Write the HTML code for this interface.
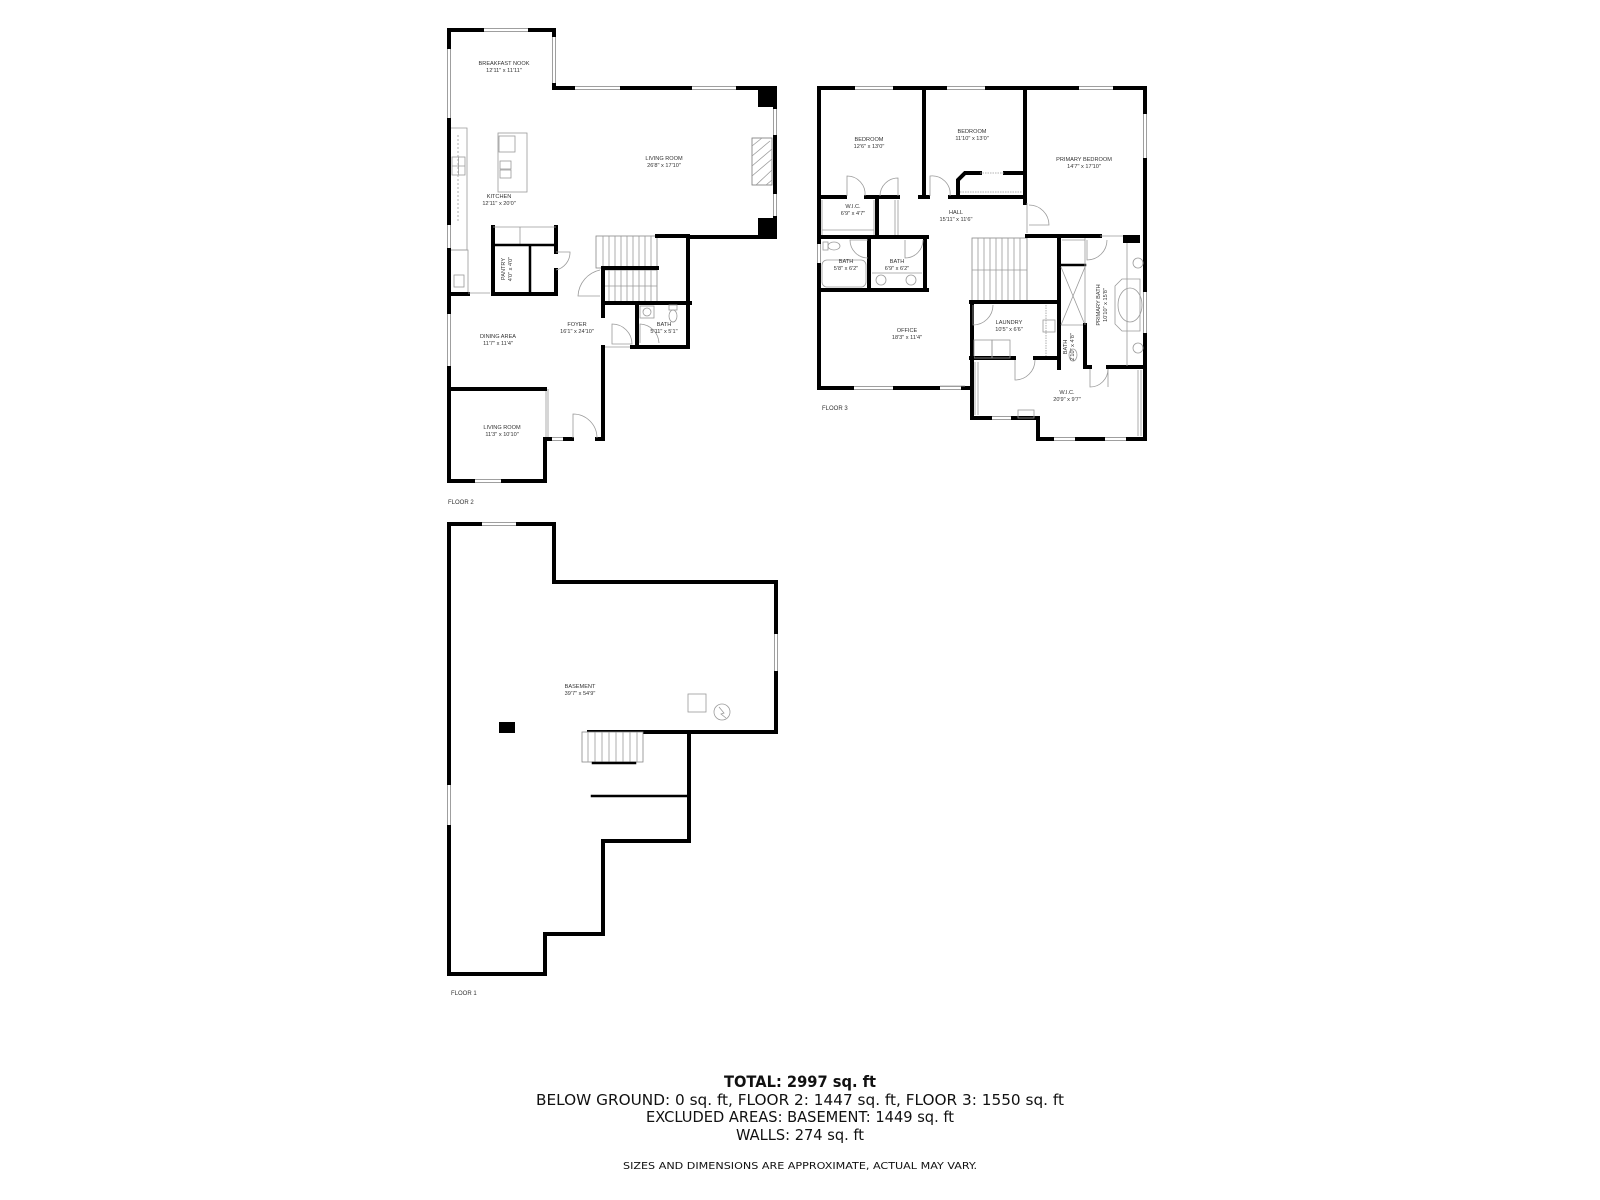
<!DOCTYPE html>
<html><head><meta charset="utf-8"><style>
html,body{margin:0;padding:0;background:#fff;}
svg{display:block;}
.w{stroke:#000;stroke-width:4;fill:none;stroke-linecap:square;}
.t{stroke:#000;stroke-width:2.5;fill:none;stroke-linecap:square;}
.g{stroke:#9a9a9a;stroke-width:0.8;fill:none;}
.win{stroke:#888;stroke-width:0.8;fill:#fff;}
.lb{font-family:"Liberation Sans",sans-serif;font-size:5.6px;fill:#333;text-anchor:middle;}
.fl{font-family:"Liberation Sans",sans-serif;font-size:6px;fill:#333;}
.bt{font-family:"DejaVu Sans","Liberation Sans",sans-serif;fill:#111;text-anchor:middle;}
</style></head><body>
<svg width="1600" height="1200" viewBox="0 0 1600 1200" xmlns="http://www.w3.org/2000/svg">
<rect width="1600" height="1200" fill="#fff"/>

<!-- ===== FLOOR 2 ===== -->
<g>
<!-- windows -->
<rect class="win" x="482" y="28.5" width="48" height="3"/>
<rect class="win" x="552.5" y="35" width="3" height="50"/>
<rect class="win" x="573" y="86.5" width="49" height="3"/>
<rect class="win" x="690" y="86.5" width="48" height="3"/>
<rect class="win" x="773.5" y="107" width="3" height="30"/>
<rect class="win" x="773.5" y="192" width="3" height="26"/>
<rect class="win" x="447.5" y="47" width="3" height="73"/>
<rect class="win" x="447.5" y="223" width="3" height="27"/>
<rect class="win" x="447.5" y="312" width="3" height="56"/>
<rect class="win" x="550" y="437.5" width="15" height="3"/>
<rect class="win" x="473" y="479.5" width="30" height="3"/>
<line class="g" x1="546" y1="389" x2="546" y2="437"/>
<line class="g" x1="548" y1="389" x2="548" y2="437"/>
<line class="g" x1="603" y1="347" x2="632" y2="347"/>
<!-- walls -->
<path class="w" d="M449,47 V30 H482 M530,30 H554 V35 M554,85 V88 H573 M622,88 H690 M738,88 H775 V107"/>
<path class="w" d="M775,137 V192 M775,218 V237 H688 V347 H632"/>
<path class="w" d="M603,347 V439 H597 M572,439 H565 M550,439 H545 V481 H503 M473,481 H449 V368"/>
<path class="w" d="M449,312 V250 M449,223 V120"/>
<path class="w" d="M449,389 H545"/>
<rect x="758" y="88" width="19" height="19" fill="#000"/>
<rect x="758" y="218" width="19" height="19" fill="#000"/>
<!-- fireplace -->
<rect x="752" y="138" width="20" height="47" fill="#fff" stroke="#777" stroke-width="0.8"/>
<path class="g" d="M752,146 L762,138 M752,156 L770,141 M752,166 L772,149 M752,176 L772,159 M756,185 L772,170 M766,185 L772,180"/>
<!-- kitchen counter -->
<path class="g" d="M451,128 H467 V250 H451"/>
<path class="g" d="M458,135 V222" stroke-dasharray="2,2"/>
<rect class="g" x="452" y="157" width="13" height="18"/>
<path class="g" d="M452,166 H465 M458.5,157 V175"/>
<path class="g" d="M451,250 H468 V294"/>
<rect class="g" x="454" y="275" width="10" height="12"/>
<!-- island -->
<rect class="g" x="498" y="133" width="29" height="59"/>
<rect class="g" x="499" y="136" width="16" height="16"/>
<rect class="g" x="500" y="161" width="11" height="8"/><rect class="g" x="500" y="170" width="11" height="8"/>
<line class="w" x1="449" y1="294" x2="468" y2="294"/>
<line class="g" x1="468" y1="293" x2="490" y2="293"/>
<!-- pantry block -->
<path class="w" d="M493,227 V294 H556 V270 M556,252 V227"/>
<path class="g" d="M493,227 H556 M493,245 H556 M520,227 V245"/>
<path class="t" d="M493,245 H556 M530,245 V294"/>
<path class="g" d="M556,252 H570 A18,18 0 0 1 556,270"/>
<!-- stairs -->
<rect x="596" y="236" width="61" height="32" fill="#fff" stroke="#888" stroke-width="0.8"/>
<path class="g" d="M603,236 V268 M609,236 V268 M615,236 V268 M621,236 V268 M627,236 V268 M633,236 V268 M639,236 V268 M645,236 V268 M651,236 V268"/>
<rect x="603" y="270" width="54" height="32" fill="#fff" stroke="#888" stroke-width="0.8"/>
<path class="g" d="M609,270 V302 M615,270 V302 M621,270 V302 M627,270 V302 M633,270 V302 M639,270 V302 M645,270 V302 M651,270 V302 M603,286 H657"/>
<path class="w" d="M657,236 H688"/>
<path class="w" d="M606,268 H657 M603,268 V316"/>
<path class="g" d="M600,270 A28,28 0 0 0 578,296 H600"/>
<!-- bath -->
<path class="w" d="M603,303 H690 M637,303 V347"/>
<rect class="g" x="640" y="306" width="14" height="12"/>
<circle class="g" cx="647" cy="312" r="4"/>
<rect class="g" x="669" y="305" width="8" height="5"/><ellipse class="g" cx="673" cy="316" rx="4" ry="6"/>
<path class="g" d="M640,343 V324 A20,20 0 0 1 659,343"/>
<path class="g" d="M612,344 V324 A20,20 0 0 1 632,344 Z" fill="none"/>
<path class="g" d="M573,438 V414 A24,24 0 0 1 597,438"/>
<!-- labels -->
<text class="lb" x="504" y="65">BREAKFAST NOOK</text><text class="lb" x="504" y="72">12'11" x 11'11"</text>
<text class="lb" x="664" y="160">LIVING ROOM</text><text class="lb" x="664" y="167">26'8" x 17'10"</text>
<text class="lb" x="499" y="198">KITCHEN</text><text class="lb" x="499" y="205">12'11" x 20'0"</text>
<text class="lb" transform="translate(505,269) rotate(-90)" x="0" y="0">PANTRY</text>
<text class="lb" transform="translate(512,269) rotate(-90)" x="0" y="0">4'0" x 4'0"</text>
<text class="lb" x="577" y="326">FOYER</text><text class="lb" x="577" y="333">16'1" x 24'10"</text>
<text class="lb" x="664" y="326">BATH</text><text class="lb" x="664" y="333">5'11" x 5'1"</text>
<text class="lb" x="498" y="338">DINING AREA</text><text class="lb" x="498" y="345">11'7" x 11'4"</text>
<text class="lb" x="502" y="429">LIVING ROOM</text><text class="lb" x="502" y="436">11'3" x 10'10"</text>
<text class="fl" x="448" y="504">FLOOR 2</text>
</g>

<!-- ===== FLOOR 3 ===== -->
<g>
<rect class="win" x="853" y="86.5" width="42" height="3"/>
<rect class="win" x="945" y="86.5" width="42" height="3"/>
<rect class="win" x="1077" y="86.5" width="38" height="3"/>
<rect class="win" x="817.5" y="242" width="3" height="23"/>
<rect class="win" x="852" y="386.5" width="43" height="3"/>
<rect class="win" x="938" y="386.5" width="25" height="3"/>
<rect class="win" x="990" y="416.5" width="23" height="3"/>
<rect class="win" x="1052" y="437.5" width="25" height="3"/>
<rect class="win" x="1103" y="437.5" width="25" height="3"/>
<rect class="win" x="1143.5" y="112" width="3" height="48"/>
<rect class="win" x="1143.5" y="290" width="3" height="45"/>
<path class="w" d="M819,242 V88 H853 M895,88 H945 M987,88 H1077 M1115,88 H1145 V112 M1145,160 V290 M1145,335 V439 H1128 M1103,439 H1077 M1052,439 H1038 V418 H1013 M990,418 H972 V302"/>
<path class="w" d="M819,265 V388 H852 M895,388 H938 M963,388 H972"/>
<line class="g" x1="940" y1="386" x2="965" y2="386"/>
<!-- bedroom walls -->
<path class="w" d="M924,88 V197 M1025,88 V203"/>
<path class="w" d="M819,197 H845 M866,197 H898 M920,197 H928 M950,197 H1025"/>
<path class="g" d="M1027,203 V233"/>
<path class="w" d="M958,197 V180 L965,173 H980 M1005,173 H1023"/>
<path class="g" d="M980,173 H1005 M960,192 H1022" stroke-dasharray="1.5,1"/>
<path class="g" d="M847,196 V176 A18,18 0 0 1 865,196"/>
<path class="g" d="M898,196 V178 A18,18 0 0 0 880,196 M898,178 V196"/>
<path class="g" d="M930,196 V176 A18,18 0 0 1 950,196"/>
<path class="g" d="M1029,205 A20,20 0 0 1 1049,225 H1029"/>
<!-- WIC / baths -->
<path class="w" d="M877,197 V237 M819,237 H927 M869,237 V290 M925,237 V290 M819,290 H927"/>
<path class="g" d="M822,200 V235 M874,200 V235 M822,230 H874 M895,200 V235 M898,200 V235"/>
<rect class="g" x="822" y="260" width="44" height="27" rx="5"/>
<rect class="g" x="823" y="242" width="5" height="8"/><ellipse class="g" cx="834" cy="246" rx="6" ry="4"/>
<path class="g" d="M868,240 H850 A18,18 0 0 0 868,258"/>
<path class="g" d="M905,240 V258 A18,18 0 0 0 923,240"/>
<circle class="g" cx="881" cy="280" r="5"/><circle class="g" cx="911" cy="280" r="5"/>
<path class="g" d="M872,273 H922"/>
<!-- stairs -->
<rect x="972" y="238" width="55" height="64" fill="#fff" stroke="#888" stroke-width="0.8"/>
<path class="g" d="M972,270 H1027 M978,238 V302 M984,238 V302 M990,238 V302 M996,238 V302 M1002,238 V302 M1008,238 V302 M1014,238 V302 M1020,238 V302"/>
<path class="w" d="M1027,236 H1100 M1059,236 V368 M971,302 H1059 M971,358 H1014 M1035,358 H1059"/>
<rect x="1123" y="235" width="17" height="8" fill="#000"/>
<path class="g" d="M1100,236 H1123"/>
<!-- laundry -->
<rect class="g" x="974" y="340" width="18" height="18"/><rect class="g" x="992" y="340" width="18" height="18"/>
<rect class="g" x="1043" y="320" width="12" height="12"/>
<path class="g" d="M1046,305 V356" stroke-dasharray="1.5,1"/>
<path class="g" d="M973,305 V325 A20,20 0 0 0 993,305"/>
<path class="g" d="M1015,360 V380 A20,20 0 0 0 1035,360"/>
<!-- shower / small bath / primary bath -->
<path class="t" d="M1059,265 H1085"/>
<path class="g" d="M1061,267 L1085,325 M1085,267 L1061,325 M1061,325 H1085"/>
<path class="w" d="M1085,325 V367 H1090 M1108,367 H1145"/>
<path class="g" d="M1085,238 V325 M1062,240 H1085 V263"/>
<path class="g" d="M1087,240 V260 A20,20 0 0 0 1107,240"/>
<path class="g" d="M1090,369 V387 A18,18 0 0 0 1108,369 V387"/>
<ellipse class="g" cx="1073" cy="355" rx="4" ry="6"/>
<path class="g" d="M1127,243 V366"/>
<path class="g" d="M1115,286 L1122,279 H1140 V331 H1122 L1115,324 Z"/>
<ellipse class="g" cx="1130" cy="305" rx="12" ry="17"/>
<circle class="g" cx="1138" cy="263" r="5"/><circle class="g" cx="1138" cy="348" r="5"/>
<!-- WIC big -->
<path class="g" d="M975,362 V415 M978,362 V415 M1141,370 V436 M1138,370 V436"/>
<rect class="g" x="1018" y="410" width="16" height="8"/>
<path class="w" d="M972,358 V418"/>
<!-- labels -->
<text class="lb" x="869" y="141">BEDROOM</text><text class="lb" x="869" y="148">12'6" x 13'0"</text>
<text class="lb" x="972" y="133">BEDROOM</text><text class="lb" x="972" y="140">11'10" x 13'0"</text>
<text class="lb" x="1084" y="161">PRIMARY BEDROOM</text><text class="lb" x="1084" y="168">14'7" x 17'10"</text>
<text class="lb" x="853" y="208">W.I.C.</text><text class="lb" x="853" y="215">6'9" x 4'7"</text>
<text class="lb" x="956" y="214">HALL</text><text class="lb" x="956" y="221">15'11" x 11'6"</text>
<text class="lb" x="846" y="263">BATH</text><text class="lb" x="846" y="270">5'8" x 6'2"</text>
<text class="lb" x="897" y="263">BATH</text><text class="lb" x="897" y="270">6'9" x 6'2"</text>
<text class="lb" x="907" y="332">OFFICE</text><text class="lb" x="907" y="339">18'3" x 11'4"</text>
<text class="lb" x="1009" y="324">LAUNDRY</text><text class="lb" x="1009" y="331">10'5" x 6'6"</text>
<text class="lb" transform="translate(1100,305) rotate(-90)">PRIMARY BATH</text>
<text class="lb" transform="translate(1107,305) rotate(-90)">10'10" x 15'8"</text>
<text class="lb" transform="translate(1067,347) rotate(-90)">BATH</text>
<text class="lb" transform="translate(1074,347) rotate(-90)">2'10" x 4'8"</text>
<text class="lb" x="1067" y="394">W.I.C.</text><text class="lb" x="1067" y="401">20'9" x 9'7"</text>
<text class="fl" x="822" y="410">FLOOR 3</text>
</g>

<!-- ===== BASEMENT ===== -->
<g>
<rect class="win" x="480" y="522.5" width="38" height="3"/>
<rect class="win" x="447.5" y="783" width="3" height="44"/>
<rect class="win" x="774.5" y="632" width="3" height="41"/>
<path class="w" d="M449,783 V524 H480 M518,524 H554 V582 H776 V632 M776,673 V732 H589"/>
<path class="w" d="M449,827 V974 H545 V934 H603 V841 H689 V732"/>
<path class="t" d="M592,796 H689"/>
<rect x="582" y="732" width="61" height="30" fill="#fff" stroke="#888" stroke-width="0.8"/>
<path class="g" d="M588,732 V762 M595,732 V762 M602,732 V762 M609,732 V762 M616,732 V762 M623,732 V762 M630,732 V762 M637,732 V762"/>
<path class="t" d="M593,763 H635"/>
<rect x="499" y="722" width="16" height="11" fill="#000"/>
<rect class="g" x="688" y="694" width="18" height="18"/>
<circle class="g" cx="722" cy="712" r="8"/>
<path class="g" d="M719,707 L724,713 L721,714 L726,718"/>
<text class="lb" x="580" y="688">BASEMENT</text><text class="lb" x="580" y="695">39'7" x 54'9"</text>
<text class="fl" x="451" y="995">FLOOR 1</text>
</g>

<!-- ===== TOTALS ===== -->
<text class="bt" x="800" y="1087" font-size="16" font-weight="bold" textLength="152" lengthAdjust="spacingAndGlyphs">TOTAL: 2997 sq. ft</text>
<text class="bt" x="800" y="1105" font-size="15" textLength="528" lengthAdjust="spacingAndGlyphs">BELOW GROUND: 0 sq. ft, FLOOR 2: 1447 sq. ft, FLOOR 3: 1550 sq. ft</text>
<text class="bt" x="800" y="1122" font-size="15" textLength="308" lengthAdjust="spacingAndGlyphs">EXCLUDED AREAS: BASEMENT: 1449 sq. ft</text>
<text class="bt" x="800" y="1140" font-size="15" textLength="128" lengthAdjust="spacingAndGlyphs">WALLS: 274 sq. ft</text>
<text class="bt" x="800" y="1169" font-size="10" textLength="354" lengthAdjust="spacingAndGlyphs">SIZES AND DIMENSIONS ARE APPROXIMATE, ACTUAL MAY VARY.</text>
</svg>
</body></html>
